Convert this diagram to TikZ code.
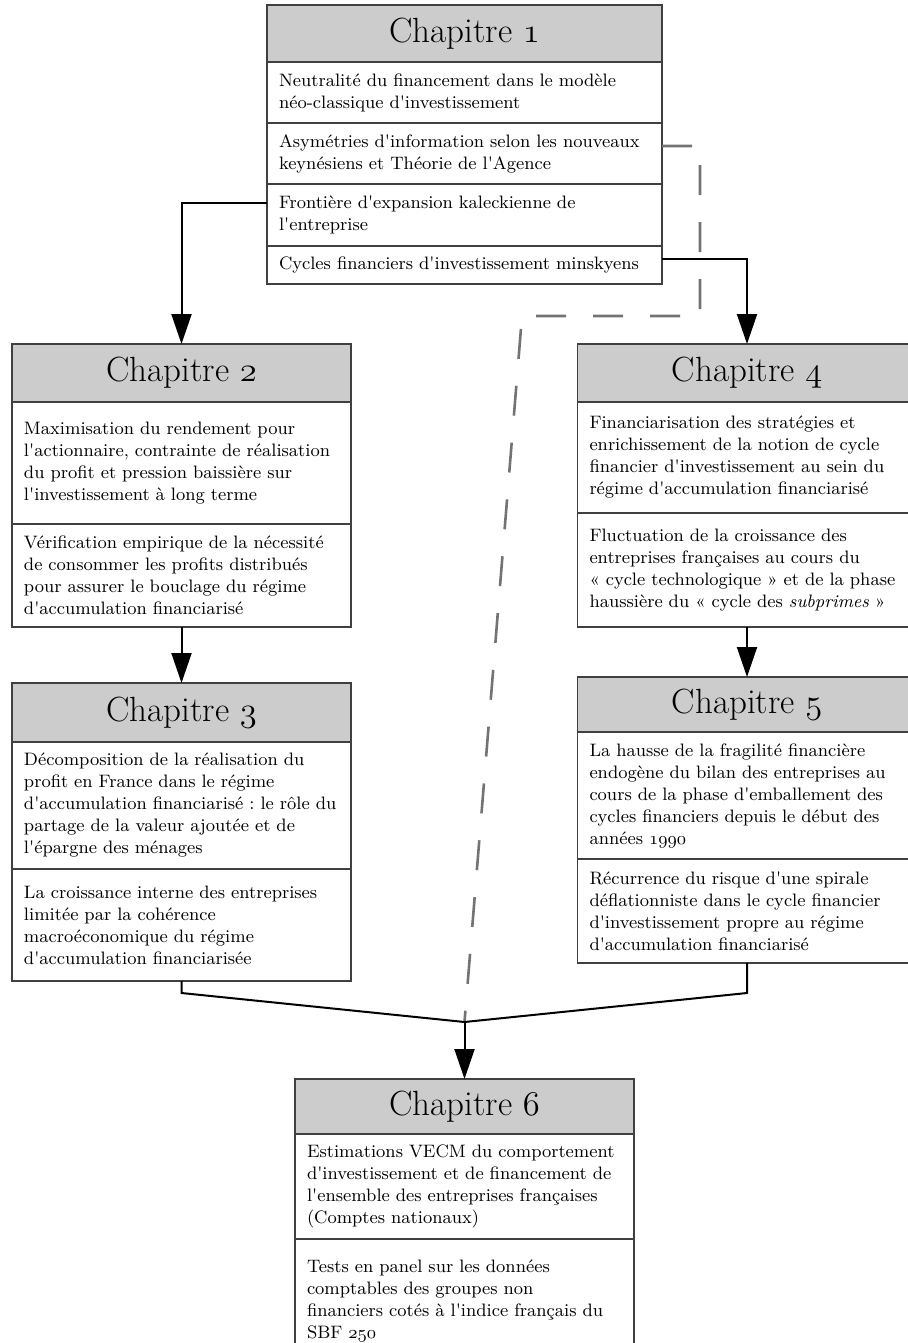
\documentclass[tikz,border=0pt]{standalone}
\usepackage{fontspec}
\setmainfont{Latin Modern Roman}[Ligatures=TeXOff]
\usetikzlibrary{positioning}
\usetikzlibrary{arrows.meta}
\newcommand{\osnum}[1]{{\fontencoding{OML}\fontfamily{cmm}\fontseries{m}\fontshape{it}\selectfont #1}}

\begin{document}
\begin{tikzpicture}[x=0.5pt,y=-0.5pt,
  chap/.style={draw=black!75,line width=0.6pt,fill=black!20,anchor=north,outer sep=0pt,
    minimum width=#1,font=\fontsize{17.5}{20}\selectfont},
  cell/.style={draw=black!75,line width=0.6pt,outer sep=0pt,inner xsep=6pt,inner ysep=0pt,
    text width=#1,align=left,font=\fontsize{9}{11}\selectfont\frenchspacing},
  link/.style={line width=1pt,-{Triangle[length=15pt,width=10pt]}},
  dashlink/.style={black!55,line width=1.3pt,dash pattern=on 15pt off 13.5pt}]
\useasboundingbox (0,0) rectangle (908,1343);

% chapitre 1
\node[chap=197.5pt,minimum height=28.5pt] at (464.5,5) (c1h) {Chapitre \osnum{1}};
\node[cell=185.5pt,minimum height=30.5pt,below=0pt of c1h] (c1r1) {Neutralité du financement dans le modèle\\néo-classique d'investissement};
\node[cell=185.5pt,minimum height=30.5pt,below=0pt of c1r1] (c1r2) {Asymétries d'information selon les nouveaux\\keynésiens et Théorie de l'Agence};
\node[cell=185.5pt,minimum height=31pt,below=0pt of c1r2] (c1r3) {Frontière d'expansion kaleckienne de\\l'entreprise};
\node[cell=185.5pt,minimum height=19pt,below=0pt of c1r3] (c1r4) {Cycles financiers d'investissement minskyens};

% chapitre 2
\node[chap=169.5pt,minimum height=29pt] at (181.5,344) (c2h) {Chapitre \osnum{2}};
\node[cell=157.5pt,minimum height=61pt,below=0pt of c2h] (c2r1) {Maximisation du rendement pour\\l'actionnaire, contrainte de réalisation\\du profit et pression baissière sur\\l'investissement à long terme};
\node[cell=157.5pt,minimum height=51.5pt,below=0pt of c2r1] (c2r2) {Vérification empirique de la nécessité\\de consommer les profits distribués\\pour assurer le bouclage du régime\\d'accumulation financiarisé};

% chapitre 3
\node[chap=169.5pt,minimum height=29.5pt] at (181.5,683) (c3h) {Chapitre \osnum{3}};
\node[cell=157.5pt,minimum height=63.5pt,below=0pt of c3h] (c3r1) {Décomposition de la réalisation du\\profit en France dans le régime\\\mbox{d'accumulation financiarisé : le rôle du}\\partage de la valeur ajoutée et de\\l'épargne des ménages};
\node[cell=157.5pt,minimum height=56pt,below=0pt of c3r1] (c3r2) {La croissance interne des entreprises\\limitée par la cohérence\\macroéconomique du régime\\d'accumulation financiarisée};

% chapitre 4
\node[chap=169.5pt,minimum height=29pt] at (747,344) (c4h) {Chapitre \osnum{4}};
\node[cell=157.5pt,minimum height=55.5pt,below=0pt of c4h] (c4r1) {Financiarisation des stratégies et\\enrichissement de la notion de cycle\\financier d'investissement au sein du\\régime d'accumulation financiarisé};
\node[cell=157.5pt,minimum height=57pt,below=0pt of c4r1] (c4r2) {Fluctuation de la croissance des\\entreprises françaises au cours du\\« cycle technologique » et de la phase\\haussière du « cycle des \textit{subprimes} »};

% chapitre 5
\node[chap=169.5pt,minimum height=27.5pt] at (747,677) (c5h) {Chapitre \osnum{5}};
\node[cell=157.5pt,minimum height=63.5pt,below=0pt of c5h] (c5r1) {La hausse de la fragilité financière\\endogène du bilan des entreprises au\\cours de la phase d'emballement des\\cycles financiers depuis le début des\\années \osnum{1990}};
\node[cell=157.5pt,minimum height=52pt,below=0pt of c5r1] (c5r2) {Récurrence du risque d'une spirale\\déflationniste dans le cycle financier\\d'investissement propre au régime\\d'accumulation financiarisé};

% chapitre 6
\node[chap=169.5pt,minimum height=27.5pt] at (464.5,1079) (c6h) {Chapitre \osnum{6}};
\node[cell=157.5pt,minimum height=52.5pt,below=0pt of c6h] (c6r1) {Estimations VECM du comportement\\d'investissement et de financement de\\l'ensemble des entreprises françaises\\(Comptes nationaux)};
\node[cell=157.5pt,minimum height=62pt,below=0pt of c6r1] (c6r2) {Tests en panel sur les données\\comptables des groupes non\\financiers cotés à l'indice français du\\SBF \osnum{250}};

\coordinate (merge) at ([yshift=28.5pt]c6h.north);
\coordinate (kink) at ([yshift=43pt]c6h.north);
\coordinate (bend) at (522,316);

\draw[dashlink] ([yshift=-11.5pt]c1r2.north east) -- ++(19pt,0) |- (bend) -- (merge);

\draw[link] ([yshift=-9.5pt]c1r3.north west) -| (c2h.north);
\draw[link] ([yshift=-6.5pt]c1r4.north east) -| (c4h.north);
\draw[link] (c2r2.south) -- (c3h.north);
\draw[link] (c4r2.south) -- (c5h.north);
\draw[line width=1pt] (c3r2.south) -- (c3r2.south |- kink) -- (merge) -- (c5r2.south |- kink) -- (c5r2.south);
\draw[link] (merge) -- (c6h.north);

\end{tikzpicture}
\end{document}
